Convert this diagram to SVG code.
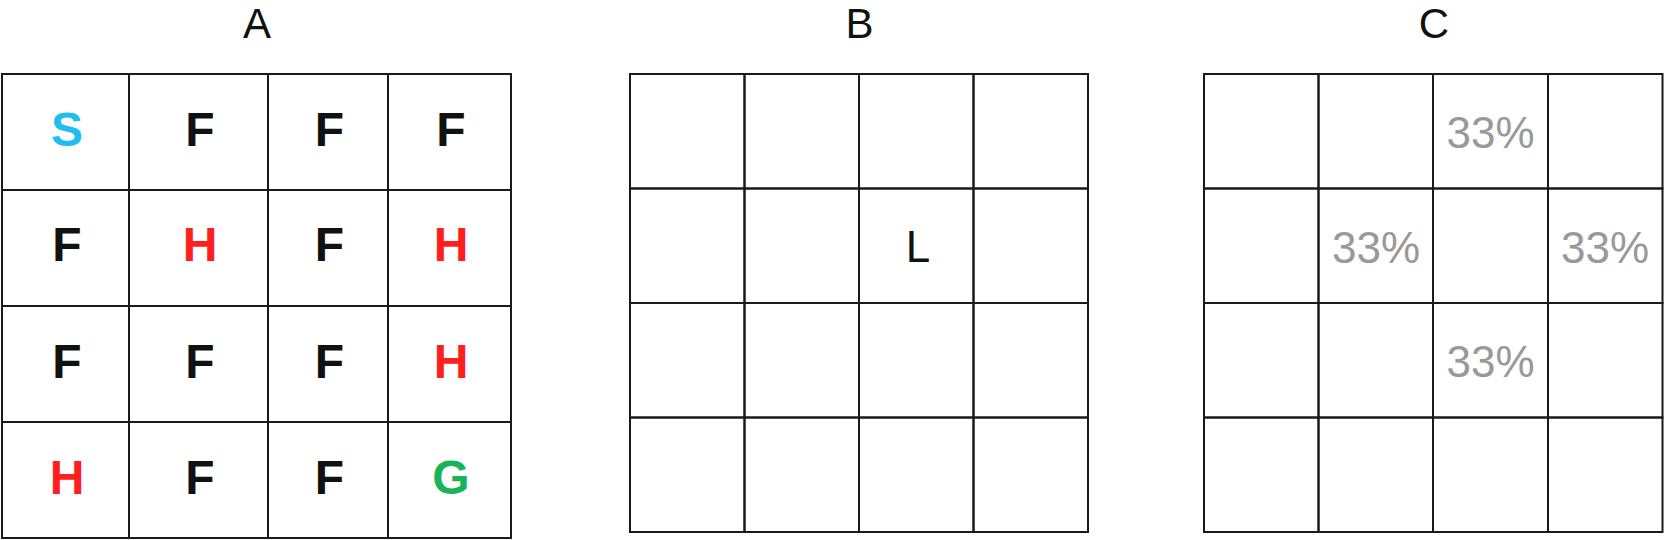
<svg xmlns="http://www.w3.org/2000/svg" width="1665" height="540" viewBox="0 0 1665 540">
<style>
.bg{fill:#ffffff}
.cell{fill:none;stroke:#1a1a1a;stroke-width:2}
.title{font-family:"Liberation Sans",Arial,sans-serif;font-size:42px;fill:#111;text-anchor:middle}
.lt{font-family:"Liberation Sans",Arial,sans-serif;font-size:48px;font-weight:bold;text-anchor:middle}
.f{fill:#111111}
.s{fill:#20bdf0}
.h{fill:#ff1f1f}
.g{fill:#19b45a}
.l{font-family:"Liberation Sans",Arial,sans-serif;font-size:44px;fill:#111;text-anchor:middle}
.p{font-family:"Liberation Sans",Arial,sans-serif;font-size:44px;fill:#999999;text-anchor:middle}
</style>
<rect class="bg" x="0" y="0" width="1665" height="540"/>
<g id="titles">
<text class="title" x="257" y="38">A</text>
<text class="title" x="859.5" y="38">B</text>
<text class="title" x="1434" y="38">C</text>
</g>
<g id="gridA">
<g id="A-r0c0"><rect class="cell" x="2" y="74" width="127" height="116"/><text class="lt s" x="67" y="145.5">S</text></g>
<g id="A-r0c1"><rect class="cell" x="129" y="74" width="139" height="116"/><text class="lt f" x="200" y="145.5">F</text></g>
<g id="A-r0c2"><rect class="cell" x="268" y="74" width="120" height="116"/><text class="lt f" x="329.5" y="145.5">F</text></g>
<g id="A-r0c3"><rect class="cell" x="388" y="74" width="123" height="116"/><text class="lt f" x="451" y="145.5">F</text></g>
<g id="A-r1c0"><rect class="cell" x="2" y="190" width="127" height="116"/><text class="lt f" x="67" y="261">F</text></g>
<g id="A-r1c1"><rect class="cell" x="129" y="190" width="139" height="116"/><text class="lt h" x="200" y="261">H</text></g>
<g id="A-r1c2"><rect class="cell" x="268" y="190" width="120" height="116"/><text class="lt f" x="329.5" y="261">F</text></g>
<g id="A-r1c3"><rect class="cell" x="388" y="190" width="123" height="116"/><text class="lt h" x="451" y="261">H</text></g>
<g id="A-r2c0"><rect class="cell" x="2" y="306" width="127" height="116"/><text class="lt f" x="67" y="378">F</text></g>
<g id="A-r2c1"><rect class="cell" x="129" y="306" width="139" height="116"/><text class="lt f" x="200" y="378">F</text></g>
<g id="A-r2c2"><rect class="cell" x="268" y="306" width="120" height="116"/><text class="lt f" x="329.5" y="378">F</text></g>
<g id="A-r2c3"><rect class="cell" x="388" y="306" width="123" height="116"/><text class="lt h" x="451" y="378">H</text></g>
<g id="A-r3c0"><rect class="cell" x="2" y="422" width="127" height="116"/><text class="lt h" x="67" y="494">H</text></g>
<g id="A-r3c1"><rect class="cell" x="129" y="422" width="139" height="116"/><text class="lt f" x="200" y="494">F</text></g>
<g id="A-r3c2"><rect class="cell" x="268" y="422" width="120" height="116"/><text class="lt f" x="329.5" y="494">F</text></g>
<g id="A-r3c3"><rect class="cell" x="388" y="422" width="123" height="116"/><text class="lt g" x="451" y="494">G</text></g>
</g>
<g id="gridB">
<g id="B-r0c0"><rect class="cell" x="630" y="74" width="114.5" height="114.5"/></g>
<g id="B-r0c1"><rect class="cell" x="744.5" y="74" width="114.5" height="114.5"/></g>
<g id="B-r0c2"><rect class="cell" x="859" y="74" width="114.5" height="114.5"/></g>
<g id="B-r0c3"><rect class="cell" x="973.5" y="74" width="114.5" height="114.5"/></g>
<g id="B-r1c0"><rect class="cell" x="630" y="188.5" width="114.5" height="114.5"/></g>
<g id="B-r1c1"><rect class="cell" x="744.5" y="188.5" width="114.5" height="114.5"/></g>
<g id="B-r1c2"><rect class="cell" x="859" y="188.5" width="114.5" height="114.5"/><text class="l" x="918" y="261.5">L</text></g>
<g id="B-r1c3"><rect class="cell" x="973.5" y="188.5" width="114.5" height="114.5"/></g>
<g id="B-r2c0"><rect class="cell" x="630" y="303" width="114.5" height="114.5"/></g>
<g id="B-r2c1"><rect class="cell" x="744.5" y="303" width="114.5" height="114.5"/></g>
<g id="B-r2c2"><rect class="cell" x="859" y="303" width="114.5" height="114.5"/></g>
<g id="B-r2c3"><rect class="cell" x="973.5" y="303" width="114.5" height="114.5"/></g>
<g id="B-r3c0"><rect class="cell" x="630" y="417.5" width="114.5" height="114.5"/></g>
<g id="B-r3c1"><rect class="cell" x="744.5" y="417.5" width="114.5" height="114.5"/></g>
<g id="B-r3c2"><rect class="cell" x="859" y="417.5" width="114.5" height="114.5"/></g>
<g id="B-r3c3"><rect class="cell" x="973.5" y="417.5" width="114.5" height="114.5"/></g>
</g>
<g id="gridC">
<g id="C-r0c0"><rect class="cell" x="1204" y="74" width="114.5" height="114.5"/></g>
<g id="C-r0c1"><rect class="cell" x="1318.5" y="74" width="114.5" height="114.5"/></g>
<g id="C-r0c2"><rect class="cell" x="1433" y="74" width="115" height="114.5"/><text class="p" x="1490.5" y="148">33%</text></g>
<g id="C-r0c3"><rect class="cell" x="1548" y="74" width="114.5" height="114.5"/></g>
<g id="C-r1c0"><rect class="cell" x="1204" y="188.5" width="114.5" height="114.5"/></g>
<g id="C-r1c1"><rect class="cell" x="1318.5" y="188.5" width="114.5" height="114.5"/><text class="p" x="1376" y="263">33%</text></g>
<g id="C-r1c2"><rect class="cell" x="1433" y="188.5" width="115" height="114.5"/></g>
<g id="C-r1c3"><rect class="cell" x="1548" y="188.5" width="114.5" height="114.5"/><text class="p" x="1605" y="263">33%</text></g>
<g id="C-r2c0"><rect class="cell" x="1204" y="303" width="114.5" height="114.5"/></g>
<g id="C-r2c1"><rect class="cell" x="1318.5" y="303" width="114.5" height="114.5"/></g>
<g id="C-r2c2"><rect class="cell" x="1433" y="303" width="115" height="114.5"/><text class="p" x="1490.5" y="377">33%</text></g>
<g id="C-r2c3"><rect class="cell" x="1548" y="303" width="114.5" height="114.5"/></g>
<g id="C-r3c0"><rect class="cell" x="1204" y="417.5" width="114.5" height="114.5"/></g>
<g id="C-r3c1"><rect class="cell" x="1318.5" y="417.5" width="114.5" height="114.5"/></g>
<g id="C-r3c2"><rect class="cell" x="1433" y="417.5" width="115" height="114.5"/></g>
<g id="C-r3c3"><rect class="cell" x="1548" y="417.5" width="114.5" height="114.5"/></g>
</g>
<g id="connectors"/>
</svg>
